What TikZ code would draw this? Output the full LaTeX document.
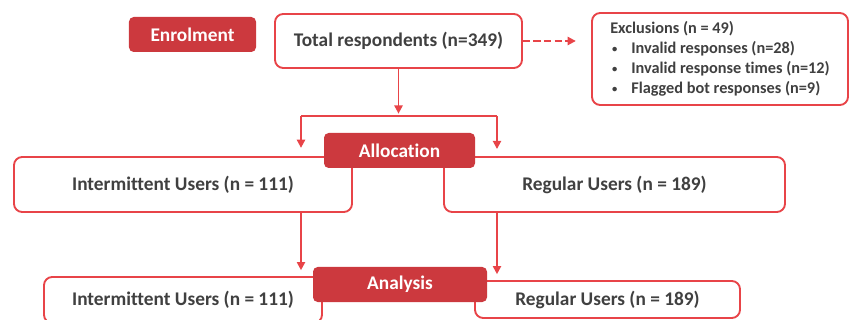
\documentclass[tikz,border=0pt]{standalone}
\usepackage{fontspec}
\setmainfont{Carlito}[Ligatures=NoCommon]
\usetikzlibrary{arrows.meta}
\definecolor{framered}{RGB}{232,68,72}
\definecolor{labelred}{RGB}{204,57,62}
\definecolor{textgray}{RGB}{64,64,64}
\newcommand{\smallbullet}{\makebox[0.63cm][l]{\hspace{1.5pt}\raisebox{0.15ex}{\fontsize{9}{9}\selectfont\textbullet}}}

\begin{document}
\begin{tikzpicture}[x=0.03cm, y=-0.03cm,
    box/.style={draw=framered, line width=1.6pt, rounded corners=7pt, fill=white,
      text=textgray, font=\fontsize{16.5}{20}\selectfont\bfseries, inner sep=0pt},
    stage/.style={fill=labelred, rounded corners=4pt, text=white,
      font=\fontsize{16.5}{20}\selectfont\bfseries, inner sep=0pt},
    line/.style={draw=framered, line width=1.6pt},
    flow/.style={line, -{Triangle[length=7pt, width=7pt]}}]
    \useasboundingbox (0,0) rectangle (851,320);
    \clip (0,0) rectangle (851,320);

    % Kästen
    \node[box, minimum width=10.14cm, minimum height=1.65cm] (inta) at (183,184.5) {Intermittent Users (n = 111)};
    \node[box, minimum width=7.41cm, minimum height=1.62cm] (total) at (398.5,41) {Total respondents (n=349)};
    \node[box, minimum width=7.68cm, minimum height=2.76cm, align=left,
      font=\fontsize{13.9}{17}\selectfont\bfseries] (excl) at (720,59)
      {Exclusions (n = 49)\\%
       \smallbullet Invalid responses (n=28)\\%
       \smallbullet Invalid response times (n=12)\\%
       \smallbullet Flagged bot responses (n=9)};
    \node[box, minimum width=10.23cm, minimum height=1.65cm] (rega) at (614.5,184.5) {Regular Users (n = 189)};
    \node[box, minimum width=8.34cm, minimum height=1.38cm] (intb) at (183,300) {Intermittent Users (n = 111)};
    \node[box, minimum width=7.95cm, minimum height=1.11cm] (regb) at (607.5,299.5) {Regular Users (n = 189)};

    % Phasen
    \node[stage, minimum width=3.81cm, minimum height=1.05cm] (enrol) at (192.5,34.5) {Enrolment};
    \node[stage, minimum width=4.53cm, minimum height=1.05cm] (alloc) at (399.5,150.5) {Allocation};
    \node[stage, minimum width=5.22cm, minimum height=1.05cm] (anal) at (400,284.5) {Analysis};

    % Pfeile
    \coordinate (fork) at (398.5,116);
    \coordinate (forkl) at (301,116);
    \coordinate (forkr) at (497,116);
    \draw[flow, shorten >=2pt] (total) -- (fork);
    \draw[line] (forkl) -- (forkr);
    \draw[flow, shorten >=7pt] (forkl) -- (forkl |- inta.north);
    \draw[flow, shorten >=6pt] (forkr) -- (forkr |- rega.north);
    \draw[flow, shorten >=5pt] (inta.south -| forkl) -- (intb.north -| forkl);
    \draw[flow, shorten >=5pt] (rega.south -| forkr) -- (regb.north -| forkr);
    \draw[flow, dash pattern=on 6pt off 3pt, shorten >=13pt] (total.east) -- (total.east -| excl.west);
\end{tikzpicture}
\end{document}
